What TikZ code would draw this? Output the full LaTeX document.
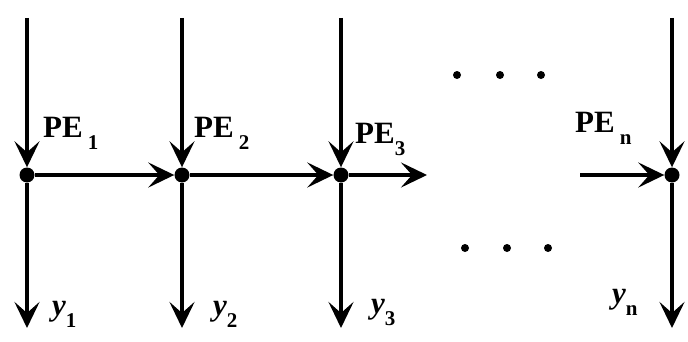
\documentclass[tikz,border=0pt]{standalone}
\usepackage{fontspec}
\setmainfont{Liberation Serif}
\usetikzlibrary{positioning,arrows.meta}
\newcommand{\lowsub}[1]{\raisebox{-0.9ex}{\fontsize{21}{21}\selectfont #1}}

\begin{document}
\begin{tikzpicture}[x=1pt,y=1pt,>={Stealth[length=26pt,width=25pt,inset=11pt]},
  pe/.style={circle,fill,inner sep=0pt,minimum size=15pt},
  flow/.style={->,line width=3.6pt},
  lab/.style={font=\fontsize{31}{32}\selectfont\bfseries,inner sep=0pt},
  ylab/.style={font=\fontsize{31}{32}\selectfont\bfseries\itshape,inner sep=0pt}]
\useasboundingbox (0,0) rectangle (688,341);
\node[pe] (p1) at (27,166) {};
\node[pe] (p2) at (182,166) {};
\node[pe] (p3) at (341,166) {};
\node[pe] (pn) at (672,166) {};
\coordinate (t1) at (27,323); \coordinate (b1) at (27,13);
\coordinate (t2) at (182,323); \coordinate (b2) at (182,13);
\coordinate (t3) at (341,323); \coordinate (b3) at (341,13);
\coordinate (tn) at (672,323); \coordinate (bn) at (672,13);
\coordinate (r3) at (427,166); \coordinate (ln) at (580,166);
\draw[flow] (t1) -- (p1); \draw[flow] (p1) -- (b1);
\draw[flow] (t2) -- (p2); \draw[flow] (p2) -- (b2);
\draw[flow] (t3) -- (p3); \draw[flow] (p3) -- (b3);
\draw[flow] (tn) -- (pn); \draw[flow] (pn) -- (bn);
\draw[flow] (p1) -- (p2);
\draw[flow] (p2) -- (p3);
\draw[flow] (p3) -- (r3);
\draw[flow] (ln) -- (pn);
\node[lab,anchor=base west] (e1) at (43,204) {PE\,\lowsub{1}};
\node[lab,anchor=base west] (e2) at (194,204) {PE\,\lowsub{2}};
\node[lab,anchor=base west] (e3) at (355,198) {PE\lowsub{3}};
\node[lab,anchor=base west] (en) at (575,209) {PE\,\lowsub{n}};
\node[ylab,anchor=base west] (y1) at (52,26) {y\lowsub{\upshape 1}};
\node[ylab,anchor=base west] (y2) at (213,26) {y\lowsub{\upshape 2}};
\node[ylab,anchor=base west] (y3) at (371,28) {y\lowsub{\upshape 3}};
\node[ylab,anchor=base west] (yn) at (612,38) {y\lowsub{\upshape n}};
% ellipsis between PE3 and PEn
\foreach \x in {457,500,541} \fill (\x,266) circle (4);
\foreach \x in {465,507,548} \fill (\x,93) circle (4);
\end{tikzpicture}
\end{document}
